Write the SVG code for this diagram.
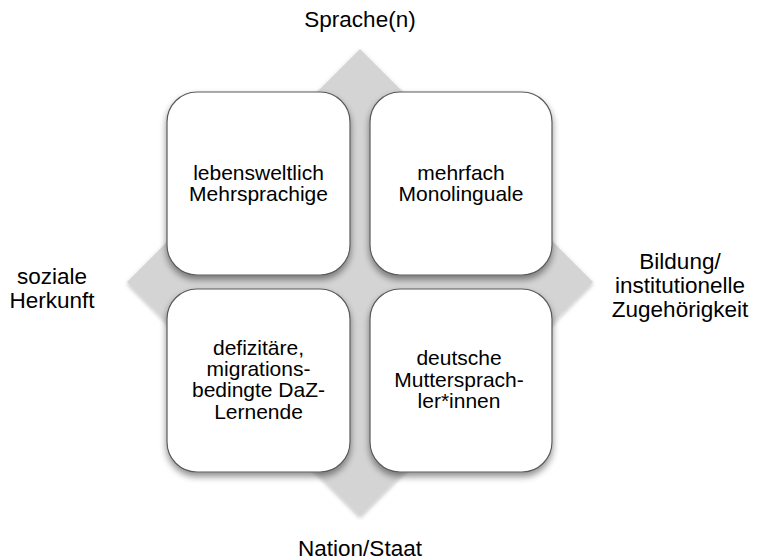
<svg xmlns="http://www.w3.org/2000/svg" width="757" height="560" viewBox="0 0 757 560">
  <style>
    .lbl { font-family: "Liberation Sans", Arial, sans-serif; font-size: 22.5px; fill: #000; text-anchor: middle; }
    .txt { font-family: "Liberation Sans", Arial, sans-serif; font-size: 21px; fill: #000; text-anchor: middle; }
    .box { fill: #ffffff; stroke: #5a5a5a; stroke-width: 1.2; filter: url(#sh); }
  </style>
  <defs>
    <filter id="sh" x="-20%" y="-20%" width="140%" height="140%">
      <feGaussianBlur in="SourceAlpha" stdDeviation="3.5"/>
      <feOffset dx="0" dy="4" result="b"/>
      <feComponentTransfer><feFuncA type="linear" slope="0.45"/></feComponentTransfer>
      <feMerge><feMergeNode/><feMergeNode in="SourceGraphic"/></feMerge>
    </filter>
    <filter id="shd" x="-10%" y="-10%" width="120%" height="120%">
      <feGaussianBlur in="SourceAlpha" stdDeviation="2"/>
      <feOffset dx="0" dy="2" result="b"/>
      <feComponentTransfer><feFuncA type="linear" slope="0.25"/></feComponentTransfer>
      <feMerge><feMergeNode/><feMergeNode in="SourceGraphic"/></feMerge>
    </filter>
  </defs>

  <g id="diamond">
    <polygon points="360,49 593,282 360,516 127,282" fill="#d4d4d4" filter="url(#shd)"/>
  </g>

  <g id="connectors"></g>

  <g id="box-tl">
    <rect class="box" x="167" y="92" width="183" height="183" rx="30" ry="30"/>
    <text class="txt" x="258.5" y="180">lebensweltlich</text>
    <text class="txt" x="258.5" y="201">Mehrsprachige</text>
  </g>
  <g id="box-tr">
    <rect class="box" x="370" y="92" width="182" height="183" rx="30" ry="30"/>
    <text class="txt" x="461" y="180">mehrfach</text>
    <text class="txt" x="461" y="201">Monolinguale</text>
  </g>
  <g id="box-bl">
    <rect class="box" x="167" y="289" width="183" height="183" rx="30" ry="30"/>
    <text class="txt" x="258.5" y="355">defizitäre,</text>
    <text class="txt" x="258.5" y="376">migrations-</text>
    <text class="txt" x="258.5" y="397">bedingte DaZ-</text>
    <text class="txt" x="258.5" y="419">Lernende</text>
  </g>
  <g id="box-br">
    <rect class="box" x="370" y="289" width="182" height="183" rx="30" ry="30"/>
    <text class="txt" x="459" y="365">deutsche</text>
    <text class="txt" x="459" y="387">Muttersprach-</text>
    <text class="txt" x="459" y="408">ler*innen</text>
  </g>

  <g id="label-top">
    <text class="lbl" x="360" y="27">Sprache(n)</text>
  </g>
  <g id="label-left">
    <text class="lbl" x="52" y="284">soziale</text>
    <text class="lbl" x="52" y="308">Herkunft</text>
  </g>
  <g id="label-right">
    <text class="lbl" x="680" y="269">Bildung/</text>
    <text class="lbl" x="680" y="293">institutionelle</text>
    <text class="lbl" x="680" y="317">Zugehörigkeit</text>
  </g>
  <g id="label-bottom">
    <text class="lbl" x="360" y="556">Nation/Staat</text>
  </g>
</svg>
